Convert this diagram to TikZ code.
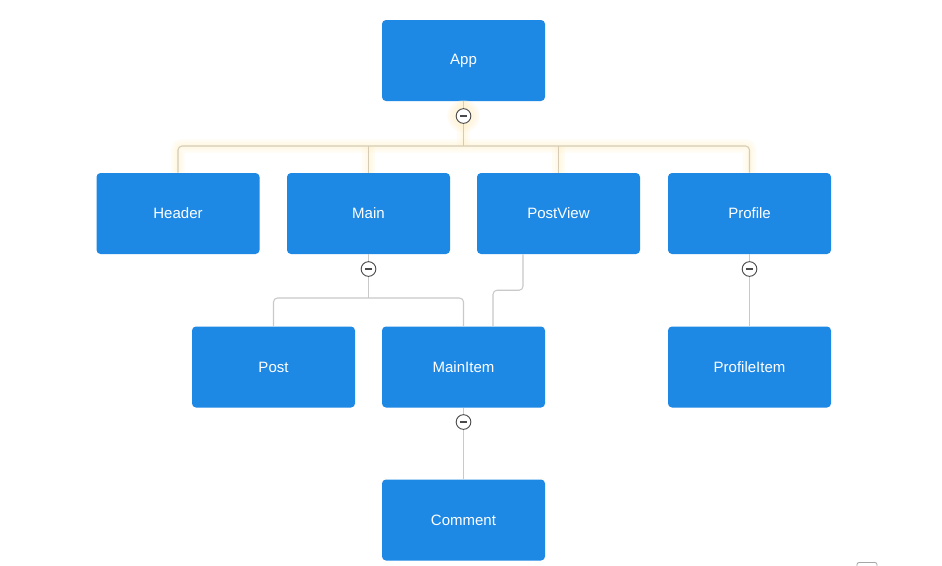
\documentclass[tikz,border=0pt]{standalone}
\usepackage{fontspec}
\setmainfont{Liberation Sans}
\usetikzlibrary{calc}
\definecolor{boxblue}{HTML}{1E88E5}
\definecolor{linkgray}{HTML}{C9C9C9}
\definecolor{linktan}{HTML}{D6CCB6}
\definecolor{glowyellow}{HTML}{FFF2CC}
\definecolor{btnedge}{HTML}{4A4A4A}
\tikzset{
  compbox/.style={rectangle, rounded corners=3pt, fill=boxblue, draw=none,
    minimum width=122.25pt, minimum height=60.75pt, inner sep=0pt,
    text=white, font=\fontsize{11.25pt}{13pt}\selectfont},
  colbtn/.style={circle, draw=btnedge, fill=white, line width=0.7pt,
    minimum size=11pt, inner sep=0pt,
    path picture={\draw[btnedge, line width=0.9pt]
      ([xshift=-2.7pt]path picture bounding box.center) --
      ([xshift=2.7pt]path picture bounding box.center);}},
  link/.style={draw=linkgray, line width=0.8pt, rounded corners=3pt},
  hotlink/.style={draw=linktan, line width=0.8pt, rounded corners=3pt},
  halo/.style={draw=glowyellow, line width=#1, opacity=0.2, rounded corners=3pt},
}
\begin{document}
\begin{tikzpicture}[x=0.75pt, y=-0.75pt]
  \useasboundingbox (0,0) rectangle (942,565);
  \fill[white] (0,0) rectangle (942,565);

  % component boxes
  \node[compbox] (app)        at (463.5, 60.5) {App};
  \node[compbox] (header)     at (178,  213.5) {Header};
  \node[compbox] (main)       at (368.5,213.5) {Main};
  \node[compbox] (postview)   at (558.5,213.5) {PostView};
  \node[compbox] (profile)    at (749.5,213.5) {Profile};
  \node[compbox] (post)       at (273.5,367)   {Post};
  \node[compbox] (mainitem)   at (463.5,367)   {MainItem};
  \node[compbox] (profileitem) at (749.5,367)  {ProfileItem};
  \node[compbox] (comment)    at (463.5,520)   {Comment};

  % bus points
  \coordinate (appbus)  at (463.5,146);
  \coordinate (mainbus) at (368.5,298);

  % highlighted App links: soft halo first, then the line
  \foreach \w in {10pt,6pt,3pt} {
    \path[halo=\w] (app.south) -- (appbus);
    \path[halo=\w] (header.north) |- (appbus) -| (profile.north);
    \path[halo=\w] (main.north) -- (main.north |- appbus);
    \path[halo=\w] (postview.north) -- (postview.north |- appbus);
    \fill[glowyellow, opacity=0.25] (463.5,116) circle (7pt+\w*0.5);
  }
  \draw[hotlink] (app.south) -- (appbus);
  \draw[hotlink] (header.north) |- (appbus) -| (profile.north);
  \draw[hotlink] (main.north) -- (main.north |- appbus);
  \draw[hotlink] (postview.north) -- (postview.north |- appbus);

  % Main branch
  \draw[link] (main.south) -- (mainbus);
  \draw[link] (post.north) |- (mainbus) -| (mainitem.north);
  % PostView to MainItem
  \draw[link] ($(postview.south)+(-35.5,0)$) -- ++(0,36) -| ($(mainitem.north)+(29.5,0)$);
  % Profile branch
  \draw[link] (profile.south) -- (profileitem.north);
  % MainItem branch
  \draw[link] (mainitem.south) -- (comment.north);

  % collapse buttons
  \node[colbtn] (appc)     at (463.5,116) {};
  \node[colbtn] (mainc)    at (368.5,269) {};
  \node[colbtn] (profilec) at (749.5,269) {};
  \node[colbtn] (mainitemc) at (463.5,422) {};

  % small control peeking in at the lower edge
  \draw[gray!70, line width=0.6pt, rounded corners=1.5pt] (857,568) -- (857,562.5) -- (877,562.5) -- (877,568);
\end{tikzpicture}
\end{document}
